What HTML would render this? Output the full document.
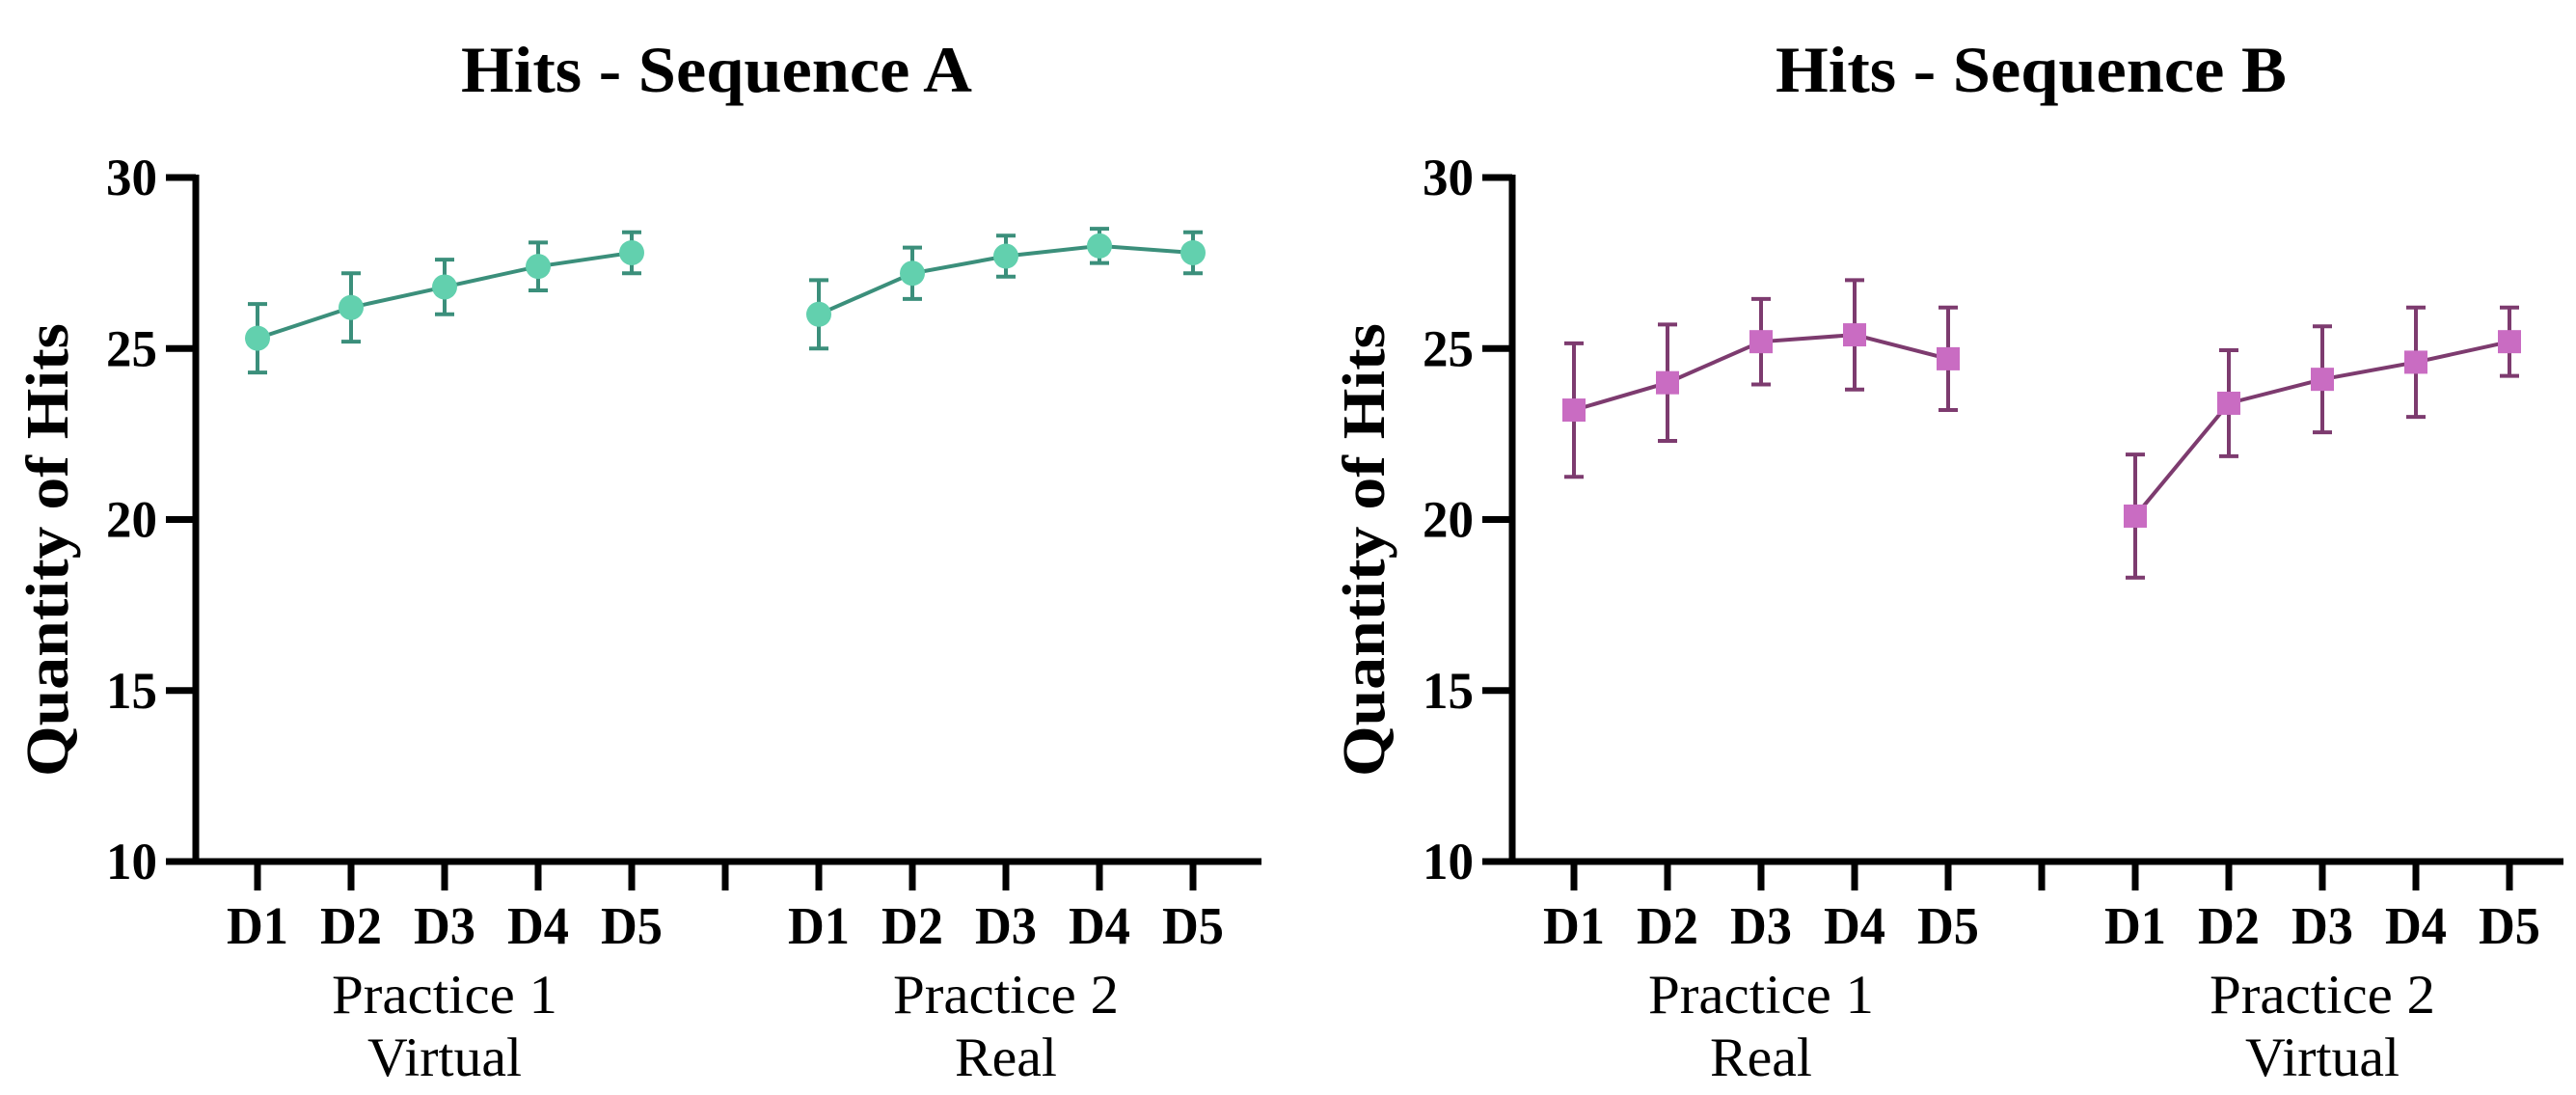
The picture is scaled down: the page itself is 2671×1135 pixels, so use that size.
<!DOCTYPE html>
<html><head><meta charset="utf-8"><style>
body{margin:0;background:#fff}
svg{display:block}
text{font-family:"Liberation Serif","Times New Roman",serif}
</style></head><body>
<svg id="chart" width="2671" height="1135" viewBox="0 0 2671 1135"></svg>
<script>
const dayLabels=["D1","D2","D3","D4","D5"];
const yTicks=[10,15,20,25,30];
const aP1Means=[25.3,26.2,26.8,27.4,27.8];
const aP1Err=[1.0,1.0,0.8,0.7,0.6];
const aP2Means=[26.0,27.2,27.7,28.0,27.8];
const aP2Err=[1.0,0.75,0.6,0.5,0.6];
const bP1Means=[23.2,24.0,25.2,25.4,24.7];
const bP1Err=[1.95,1.7,1.25,1.6,1.5];
const bP2Means=[20.1,23.4,24.1,24.6,25.2];
const bP2Err=[1.8,1.55,1.55,1.6,1.0];
const aGroups=["Practice 1|Virtual","Practice 2|Real"];
const bGroups=["Practice 1|Real","Practice 2|Virtual"];

const NS="http://www.w3.org/2000/svg";
const svg=document.getElementById('chart');
function mk(tag,attrs,parent,name){const e=document.createElementNS(NS,tag);for(const k in attrs)e.setAttribute(k,attrs[k]);(parent||svg).appendChild(e);


return e;}
function txt(attrs,parent,name,str,len){
  attrs['font-family']='Liberation Serif, serif';
  if(len){attrs.textLength=len;attrs.lengthAdjust='spacingAndGlyphs';}
  const t=mk('text',attrs,parent,name);t.textContent=str;return t;}
const Y0=893,Y1=184;
function yS(v){return Y0+(v-10)/(30-10)*(Y1-Y0);}

function panel(p){
  const g=mk('g',{},svg,p.id);
  txt({x:p.title_x,y:95,'text-anchor':'middle','font-size':68,'font-weight':'bold'},g,'chart-title',p.title,530);
  txt({transform:`translate(${p.ax-133},570) rotate(-90)`,'text-anchor':'middle','font-size':62,'font-weight':'bold'},g,'y-axis-title',"Quantity of Hits",470);
  mk('line',{x1:p.ax,y1:Y1-3,x2:p.ax,y2:Y0+3,stroke:'#000','stroke-width':7},g,'y-axis');
  mk('line',{x1:p.ax-3,y1:Y0,x2:p.axEnd,y2:Y0,stroke:'#000','stroke-width':7},g,'x-axis');
  yTicks.forEach(v=>{
    mk('line',{x1:p.ax-31,y1:yS(v),x2:p.ax,y2:yS(v),stroke:'#000','stroke-width':7},g,'y-tick');
    txt({x:p.ax-40,y:yS(v)+18,'text-anchor':'end','font-size':54,'font-weight':'bold'},g,'y-tick-label',String(v),53);
  });
  const xs1=dayLabels.map((d,i)=>p.s1+i*p.step), xs2=dayLabels.map((d,i)=>p.s2+i*p.step);
  mk('line',{x1:(xs1[4]+xs2[0])/2,y1:Y0,x2:(xs1[4]+xs2[0])/2,y2:Y0+30,stroke:'#000','stroke-width':7},g,'x-gap-tick');
  [[xs1,p.m1,p.e1,p.groups[0]],[xs2,p.m2,p.e2,p.groups[1]]].forEach(([xs,m,e,grp])=>{
    xs.forEach((x,i)=>{
      mk('line',{x1:x,y1:Y0,x2:x,y2:Y0+30,stroke:'#000','stroke-width':7},g,'x-tick');
      txt({x:x,y:978,'text-anchor':'middle','font-size':55,'font-weight':'bold'},g,'x-tick-label',dayLabels[i],64);
    });
    const parts=grp.split('|');
    const c=(xs[0]+xs[4])/2;
    txt({x:c,y:1050,'text-anchor':'middle','font-size':57},g,'group-label',parts[0],234);
    txt({x:c,y:1115,'text-anchor':'middle','font-size':57},g,'group-sublabel',parts[1],parts[1]==='Virtual'?160:106);
    mk('polyline',{points:xs.map((x,i)=>x+','+yS(m[i])).join(' '),fill:'none',stroke:p.line,'stroke-width':4},g,'series-line');
    xs.forEach((x,i)=>{
      const hi=yS(m[i]+e[i]),lo=yS(m[i]-e[i]);
      mk('line',{x1:x,y1:hi,x2:x,y2:lo,stroke:p.line,'stroke-width':4},g,'error-bar');
      mk('line',{x1:x-10,y1:hi,x2:x+10,y2:hi,stroke:p.line,'stroke-width':4},g,'error-cap');
      mk('line',{x1:x-10,y1:lo,x2:x+10,y2:lo,stroke:p.line,'stroke-width':4},g,'error-cap');
      if(p.shape==='circle') mk('circle',{cx:x,cy:yS(m[i]),r:13,fill:p.fill},g,'data-point');
      else mk('rect',{x:x-12,y:yS(m[i])-12,width:24,height:24,fill:p.fill},g,'data-point');
    });
  });
}
panel({id:'panel-sequence-a',title:'Hits - Sequence A',title_x:743,ax:203,axEnd:1308,s1:267,s2:849,step:97,m1:aP1Means,e1:aP1Err,m2:aP2Means,e2:aP2Err,groups:aGroups,line:'#3b8f7b',fill:'#62d0ae',shape:'circle'});
panel({id:'panel-sequence-b',title:'Hits - Sequence B',title_x:2106,ax:1568,axEnd:2658,s1:1632,s2:2214,step:97,m1:bP1Means,e1:bP1Err,m2:bP2Means,e2:bP2Err,groups:bGroups,line:'#7d3b6f',fill:'#c96cc2',shape:'square'});
</script>
</body></html>
